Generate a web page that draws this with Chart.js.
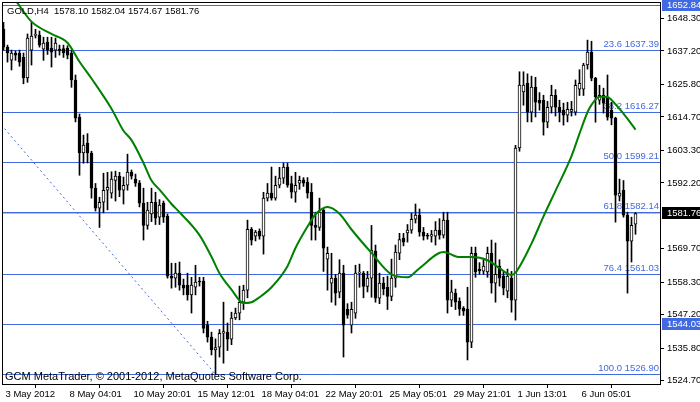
<!DOCTYPE html>
<html>
<head>
<meta charset="utf-8">
<script src="https://cdn.jsdelivr.net/npm/chart.js@4.4.1/dist/chart.umd.min.js"></script>
<style>
  html, body { margin: 0; padding: 0; background: #fff; }
  canvas { display: block; }
</style>
</head>
<body>
<canvas id="goldChart" width="700" height="402"></canvas>
<script>
// GOLD H4 candles, one per bar (oldest first)
const opens = [
  1644.7,1638.5,1634.1,1636.5,1636.5,1635.0,1628.0,1637.5,1642.5,1642.6,
  1637.8,1640.2,1638.2,1637.5,1637.8,1638.0,1638.2,1636.5,1627.3,1614.6,
  1602.4,1605.8,1602.4,1590.4,1583.6,1585.6,1589.7,1588.7,1593.0,1594.5,
  1589.7,1591.4,1595.9,1593.5,1592.1,1585.3,1577.7,1581.6,1585.6,1580.5,
  1585.3,1580.9,1560.4,1559.7,1561.4,1557.3,1557.3,1554.0,1556.6,1558.7,
  1558.7,1543.7,1539.6,1535.2,1536.2,1540.9,1541.3,1538.9,1546.1,1547.8,
  1551.5,1555.6,1576.4,1574.0,1575.7,1574.0,1587.0,1588.7,1587.0,1591.4,
  1593.8,1597.6,1592.0,1589.0,1592.1,1593.2,1592.5,1589.0,1577.7,1577.0,
  1582.9,1566.2,1558.0,1559.7,1554.9,1561.4,1549.1,1543.7,1547.8,1561.4,
  1561.4,1556.9,1559.7,1568.9,1552.9,1558.0,1556.6,1553.5,1559.7,1568.2,
  1573.4,1575.1,1576.1,1579.8,1581.2,1575.4,1574.2,1574.0,1574.0,1576.1,
  1574.4,1579.5,1552.2,1554.6,1551.8,1549.5,1549.1,1537.9,1568.2,1562.8,
  1562.1,1561.8,1568.2,1558.0,1563.8,1560.4,1555.3,1559.7,1552.2,1604.1,
  1623.2,1626.2,1616.3,1624.9,1620.4,1620.4,1612.9,1618.0,1622.1,1618.0,
  1617.0,1615.3,1616.6,1616.3,1624.2,1624.2,1632.4,1636.8,1627.9,1620.4,
  1622.1,1621.5,1617.0,1614.3,1587.7,1589.7,1581.2,1572.3,1578.10
];
const highs = [
  1647.0,1639.2,1637.5,1637.2,1637.5,1636.5,1643.0,1647.0,1644.6,1644.0,
  1641.9,1641.9,1641.9,1641.6,1639.2,1639.2,1639.0,1637.5,1629.0,1615.7,
  1608.5,1609.0,1603.0,1592.0,1587.3,1595.5,1595.8,1596.0,1596.2,1595.8,
  1594.2,1602.0,1596.6,1595.2,1593.0,1590.4,1585.6,1590.4,1589.0,1586.5,
  1586.0,1581.6,1564.8,1564.8,1565.2,1559.4,1561.4,1560.0,1564.1,1560.0,
  1560.0,1545.0,1541.3,1539.0,1542.2,1551.5,1544.4,1548.1,1549.5,1557.0,
  1557.3,1579.5,1577.0,1576.0,1576.5,1589.0,1592.0,1597.6,1594.5,1597.5,
  1599.0,1599.0,1594.5,1595.8,1594.5,1594.0,1594.0,1592.0,1582.2,1587.0,
  1583.5,1570.3,1568.2,1561.0,1566.0,1564.1,1551.0,1551.5,1564.1,1564.5,
  1562.0,1562.0,1577.7,1571.0,1561.4,1560.0,1560.4,1566.2,1571.0,1575.0,
  1575.0,1578.0,1581.9,1585.0,1583.3,1577.0,1575.0,1576.0,1579.0,1580.0,
  1582.2,1582.2,1559.0,1556.0,1553.0,1550.0,1556.6,1570.3,1570.3,1565.0,
  1566.0,1570.3,1572.7,1571.7,1566.0,1562.0,1562.8,1562.0,1605.0,1630.1,
  1630.1,1629.4,1628.6,1628.2,1623.0,1622.1,1620.0,1625.5,1624.0,1620.4,
  1619.4,1619.7,1620.0,1627.3,1630.8,1633.0,1640.9,1640.5,1628.2,1625.5,
  1624.5,1629.0,1619.7,1614.6,1593.5,1593.0,1582.2,1580.5,1582.04
];
const lows = [
  1637.5,1633.4,1630.7,1634.0,1632.0,1626.0,1626.5,1632.4,1641.6,1638.5,
  1634.0,1636.0,1631.7,1635.0,1635.8,1635.0,1634.5,1624.8,1613.0,1594.8,
  1598.9,1599.0,1587.0,1582.6,1577.0,1582.0,1583.0,1587.0,1586.0,1587.5,
  1585.0,1589.7,1593.5,1591.0,1584.0,1572.7,1576.4,1579.0,1578.0,1578.0,
  1578.7,1559.7,1556.3,1556.6,1555.6,1554.0,1552.2,1547.8,1554.0,1557.0,
  1541.0,1537.9,1533.5,1526.9,1532.8,1530.7,1535.0,1537.0,1545.6,1545.5,
  1549.0,1553.0,1571.0,1572.4,1573.0,1567.9,1586.0,1586.3,1586.3,1590.5,
  1592.0,1590.7,1587.0,1585.6,1590.0,1591.0,1587.0,1572.7,1572.7,1576.0,
  1562.0,1555.6,1551.5,1550.5,1553.0,1532.8,1546.0,1541.0,1546.0,1556.6,
  1553.0,1555.0,1553.2,1551.5,1551.0,1554.0,1549.0,1552.0,1556.6,1566.0,
  1570.7,1572.0,1575.0,1578.5,1574.0,1572.7,1573.0,1572.0,1571.0,1573.0,
  1573.4,1547.8,1550.0,1549.0,1547.0,1547.0,1531.8,1536.0,1560.0,1561.0,
  1561.0,1560.0,1554.6,1551.5,1557.0,1554.0,1553.0,1548.1,1545.4,1603.0,
  1618.7,1613.0,1613.0,1614.7,1617.0,1608.5,1611.0,1616.0,1615.0,1613.0,
  1611.9,1613.0,1615.0,1615.3,1622.0,1622.0,1631.0,1627.0,1612.9,1619.0,
  1616.0,1613.6,1612.0,1578.8,1586.0,1580.5,1554.6,1565.2,1574.67
];
const closes = [
  1638.5,1636.5,1636.5,1635.8,1633.4,1628.0,1641.6,1642.3,1642.7,1639.2,
  1639.9,1637.5,1636.8,1639.9,1637.2,1636.5,1635.8,1627.3,1614.3,1602.4,
  1605.1,1602.4,1590.4,1583.6,1585.6,1589.7,1590.7,1593.5,1594.5,1589.7,
  1591.4,1595.9,1594.5,1592.1,1585.3,1577.7,1582.9,1585.6,1580.2,1584.6,
  1580.5,1560.4,1559.7,1561.4,1557.3,1556.3,1554.0,1557.3,1558.4,1558.4,
  1542.6,1539.6,1535.2,1536.0,1540.9,1541.5,1538.9,1546.1,1547.8,1551.5,
  1555.6,1576.4,1572.7,1575.4,1574.0,1587.0,1588.7,1587.0,1591.4,1593.8,
  1597.6,1591.4,1589.0,1591.4,1593.1,1592.1,1588.7,1577.7,1577.0,1582.2,
  1569.9,1568.2,1559.7,1554.6,1561.4,1543.7,1547.1,1549.1,1561.4,1561.8,
  1556.9,1559.7,1569.3,1552.9,1558.0,1556.0,1553.5,1559.7,1568.6,1572.9,
  1572.0,1576.1,1579.8,1581.2,1575.4,1574.0,1574.0,1574.6,1576.1,1574.4,
  1579.5,1552.2,1555.0,1551.5,1549.1,1548.4,1537.9,1568.2,1561.8,1562.2,
  1563.8,1568.2,1558.0,1561.0,1559.7,1556.3,1560.4,1552.2,1604.1,1625.6,
  1625.6,1616.3,1624.9,1619.7,1619.4,1612.9,1618.0,1622.1,1618.0,1616.3,
  1615.3,1617.3,1617.3,1625.5,1626.2,1632.4,1636.8,1627.9,1621.5,1622.1,
  1619.4,1614.6,1614.3,1588.0,1588.7,1581.2,1572.3,1577.7,1581.76
];

// moving average (green), read at some bars
const maBars   = [0, 3, 7, 12, 16, 19, 22, 27, 30, 32, 35, 37, 39, 42, 44, 49, 52, 54, 57, 60,
                  62, 64, 67, 71, 73, 76, 78, 81, 84, 87, 92, 97, 101, 104, 110, 114, 117, 121, 124, 127,
                  128, 132, 135, 138, 142, 144, 146, 147, 149, 151, 152, 155, 158];
const maValues = [1659.5, 1654.5, 1647.2, 1643.0, 1640.0, 1633.5, 1627.8, 1617.5, 1610.0, 1606.8,
                  1599.0, 1593.0, 1589.9, 1585.0, 1582.2, 1574.4, 1567.0, 1561.4, 1555.8, 1551.2,
                  1551.5, 1553.2, 1556.6, 1563.8, 1570.0, 1577.3, 1581.5, 1584.0, 1581.7, 1576.3,
                  1568.3, 1561.0, 1560.0, 1563.1, 1568.6, 1566.9, 1566.9, 1565.8, 1563.1, 1560.8,
                  1561.6, 1571.5, 1580.8, 1589.5, 1601.3, 1609.0, 1616.3, 1618.8, 1621.6, 1621.5,
                  1620.5, 1615.8, 1610.4];

// fibonacci retracement + horizontal lines
const fibLevels = ['23.6', '38.2', '50.0', '61.8', '76.4', '100.0'];
const fibPrices = [1637.39, 1616.27, 1599.21, 1582.14, 1561.03, 1526.90];
const hLinePrices = [1652.84, 1544.03];
const trendBars = [-38, 53];
const trendPrices = [1671.52, 1526.90];

// axes
const xTickBars = [0, 16, 32, 48, 64, 80, 96, 112, 128, 144];
const xTickLabels = ['3 May 2012', '8 May 04:01', '10 May 20:01', '15 May 12:01', '18 May 04:01',
                     '22 May 20:01', '25 May 05:01', '29 May 21:01', '1 Jun 13:01', '6 Jun 05:01'];
const yTickValues = [1648.30, 1637.20, 1625.80, 1614.70, 1603.30, 1592.20,
                     1569.70, 1558.30, 1547.20, 1535.80, 1524.70];

const BLUE = '#4169E1';
const FAMILY = '"Liberation Sans", Arial, sans-serif';
const FONT = '9.5px ' + FAMILY;
const last = closes.length - 1;

function hline(ctx, x1, x2, y) {
  ctx.beginPath();
  ctx.moveTo(x1, y);
  ctx.lineTo(x2, y);
  ctx.stroke();
}

const mtOverlay = {
  id: 'mtOverlay',
  beforeDatasetsDraw(chart) {
    const { ctx, chartArea: a, scales: { y } } = chart;
    ctx.save();
    ctx.lineWidth = 1;
    // bid line
    ctx.strokeStyle = '#C0C0C0';
    hline(ctx, a.left, a.right, Math.round(y.getPixelForValue(closes[last])) + 0.5);
    // levels
    ctx.strokeStyle = BLUE;
    hLinePrices.concat(fibPrices).forEach(p => {
      hline(ctx, a.left, a.right, Math.round(y.getPixelForValue(p)) + 0.5);
    });
    ctx.fillStyle = BLUE;
    ctx.font = FONT;
    ctx.textAlign = 'right';
    ctx.textBaseline = 'bottom';
    fibPrices.forEach((p, k) => {
      ctx.fillText(fibLevels[k] + ' ' + p.toFixed(2), a.right - 1, Math.round(y.getPixelForValue(p)) - 1);
    });
    ctx.restore();
  },
  afterDraw(chart) {
    const { ctx, chartArea: a, scales: { y } } = chart;
    ctx.save();
    // frame
    ctx.strokeStyle = '#000';
    ctx.lineWidth = 1;
    ctx.strokeRect(a.left - 0.5, a.top + 0.5, a.right - a.left + 1, a.bottom - a.top);
    ctx.font = FONT;
    ctx.fillStyle = '#000';
    ctx.textAlign = 'left';
    ctx.textBaseline = 'middle';
    ctx.fillText('GOLD,H4  ' + [opens[last], highs[last], lows[last], closes[last]].map(v => v.toFixed(2)).join(' '),
      a.left + 4, a.top + 9);
    ctx.font = '11px ' + FAMILY;
    ctx.fillText('GCM MetaTrader, \u00A9 2001-2012, MetaQuotes Software Corp.', a.left + 2, a.bottom - 7);
    ctx.font = FONT;
    // price boxes on the axis
    const boxes = hLinePrices.map(p => [p, BLUE]).concat([[closes[last], '#000']]);
    boxes.forEach(([p, col]) => {
      const py = Math.round(y.getPixelForValue(p));
      ctx.fillStyle = col;
      ctx.fillRect(a.right + 2, py - 6, chart.width - a.right - 2, 12);
      ctx.fillStyle = '#fff';
      ctx.fillText(p.toFixed(2), a.right + 7, py);
    });
    ctx.restore();
  }
};

new Chart(document.getElementById('goldChart'), {
  type: 'bar',
  data: {
    datasets: [
      {
        type: 'line',
        label: 'MA',
        data: maBars.map((b, k) => ({ x: b, y: maValues[k] })),
        borderColor: '#008000',
        borderWidth: 2,
        pointRadius: 0,
        cubicInterpolationMode: 'monotone',
        order: 0
      },
      {
        label: 'Body',
        data: opens.map((o, i) => ({ x: i, y: [o, closes[i]] })),
        backgroundColor: closes.map((c, i) => c >= opens[i] ? '#fff' : '#000'),
        borderColor: '#000',
        borderWidth: 1,
        borderSkipped: false,
        barThickness: 3,
        minBarLength: 1,
        grouped: false,
        order: 1
      },
      {
        label: 'Wick',
        data: highs.map((h, i) => ({ x: i, y: [lows[i], h] })),
        backgroundColor: '#000',
        borderWidth: 0,
        barThickness: 1,
        minBarLength: 1,
        grouped: false,
        order: 2
      },
      {
        type: 'line',
        label: 'Fibo base',
        data: trendBars.map((b, k) => ({ x: b, y: trendPrices[k] })),
        borderColor: BLUE,
        borderWidth: 1,
        borderDash: [2, 3],
        pointRadius: 0,
        order: 3
      }
    ]
  },
  options: {
    responsive: false,
    animation: false,
    events: [],
    layout: { padding: { left: 3, top: 2, right: 0, bottom: 0 } },
    plugins: {
      legend: { display: false },
      tooltip: { enabled: false }
    },
    scales: {
      x: {
        type: 'linear',
        offset: false,
        bounds: 'data',
        min: -0.125,
        max: 164.125,
        afterFit: s => { s.height = 18; s.paddingLeft = 0; s.paddingRight = 0; },
        afterBuildTicks: s => { s.ticks = xTickBars.map(v => ({ value: v })); },
        grid: { drawOnChartArea: false, drawTicks: true, tickLength: 4, color: '#000' },
        border: { display: false },
        ticks: {
          autoSkip: false,
          maxRotation: 0,
          align: 'start',
          labelOffset: 2,
          padding: 1,
          color: '#000',
          font: { family: FAMILY, size: 9.5 },
          callback: (v, i) => xTickLabels[i]
        }
      },
      y: {
        position: 'right',
        min: 1523.6,
        max: 1653.9,
        bounds: 'data',
        afterFit: s => { s.width = 40; s.paddingTop = 0; s.paddingBottom = 0; },
        afterBuildTicks: s => { s.ticks = yTickValues.map(v => ({ value: v })); },
        grid: { drawOnChartArea: false, drawTicks: true, tickLength: 4, color: '#000' },
        border: { display: false },
        ticks: {
          autoSkip: false,
          padding: 3,
          color: '#000',
          font: { family: FAMILY, size: 9.5 },
          callback: v => v.toFixed(2)
        }
      }
    }
  },
  plugins: [mtOverlay]
});
</script>
</body>
</html>
